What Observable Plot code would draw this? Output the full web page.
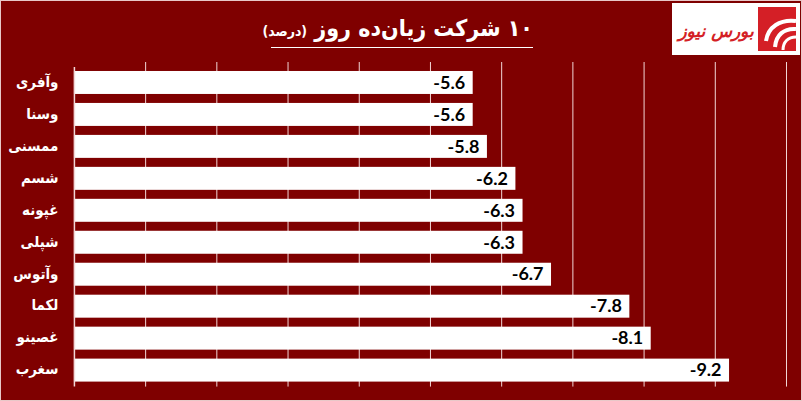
<!DOCTYPE html>
<html><head><meta charset="utf-8">
<script src="https://cdn.jsdelivr.net/npm/d3@7"></script>
<script src="https://cdn.jsdelivr.net/npm/@observablehq/plot@0.6"></script>
<style>
html,body{margin:0;padding:0;background:#800000;}
#wrap{position:relative;width:802px;height:401px;background:#7f0000;box-sizing:border-box;border:1px solid #e8c8c8;overflow:hidden;}
#head{position:relative;height:61px;}
#title{position:absolute;left:270px;width:262px;top:10px;height:36px;border-bottom:1.5px solid #fff;color:#fff;font-family:"DejaVu Sans Condensed","DejaVu Sans";font-weight:bold;font-size:23px;text-align:center;direction:rtl;white-space:nowrap;line-height:34px;}
#title .s{font-size:14px;}
#logo{position:absolute;left:671px;top:2px;}
#chart{position:absolute;left:-1px;top:61px;}
</style></head>
<body>
<div id="wrap">
<div id="head">
<div id="title"><span>۱۰ شرکت زیان‌ده روز</span> <span class="s">(درصد)</span></div>
<svg id="logo" width="128" height="52" viewBox="0 0 128 52">
<rect x="0" y="0" width="128" height="52" fill="#fff"/>
<text x="44" y="34" text-anchor="middle" font-family="DejaVu Sans" font-weight="bold" font-style="italic" font-size="17" fill="#d41f26" direction="rtl">بورس نیوز</text>
<rect x="86" y="4" width="38" height="44" fill="#d41f26"/>
<path d="M124 18 C108 16 96 24 94 38" stroke="#fff" stroke-width="4" fill="none"/>
<path d="M124 26 C112 25 104 32 103 44" stroke="#fff" stroke-width="4" fill="none"/>
<path d="M124 34 C116 34 111 39 111 47" stroke="#fff" stroke-width="3" fill="none"/>
</svg>
</div>
<div id="chart"></div>
</div>
<script>
const names = ["وآفری","وسنا","ممسنی","شسم","غپونه","شپلی","وآتوس","لکما","غصینو","سغرب"];
const values = [-5.6,-5.6,-5.8,-6.2,-6.3,-6.3,-6.7,-7.8,-8.1,-9.2];
const xTicks = [0,1,2,3,4,5,6,7,8,9,10];

const data = names.map((n,i)=>({name:n, value:values[i], mag:Math.abs(values[i])}));

const plot = Plot.plot({
  width: 802,
  height: 340,
  marginLeft: 74,
  marginRight: 15,
  marginTop: 5,
  marginBottom: 15,
  style: {background: "transparent", overflow: "visible"},
  x: {domain: [0,10], axis: null},
  y: {domain: names, axis: null, paddingInner: 0.27, paddingOuter: 0.1},
  marks: [
    Plot.ruleX(xTicks.slice(1), {stroke: "#f2d6d6", strokeWidth: 1, insetTop: -5}),
    Plot.barX(data, {x: "mag", y: "name", fill: "#ffffff"}),
    Plot.ruleX([0], {stroke: "#f2d6d6", strokeWidth: 1.5}),
    Plot.text(data, {x: "mag", y: "name", text: d => d.value.toFixed(1), textAnchor: "end", dx: -8, fill: "#000", fontFamily: "Lato", fontWeight: "bold", fontSize: 18}),
    Plot.text(data, {x: 0, y: "name", text: "name", textAnchor: "end", dx: -16, dy: -1, fill: "#fff", fontFamily: "DejaVu Sans Condensed, DejaVu Sans", fontWeight: "bold", fontSize: 15})
  ]
});
document.getElementById("chart").appendChild(plot);
</script>
</body></html>
